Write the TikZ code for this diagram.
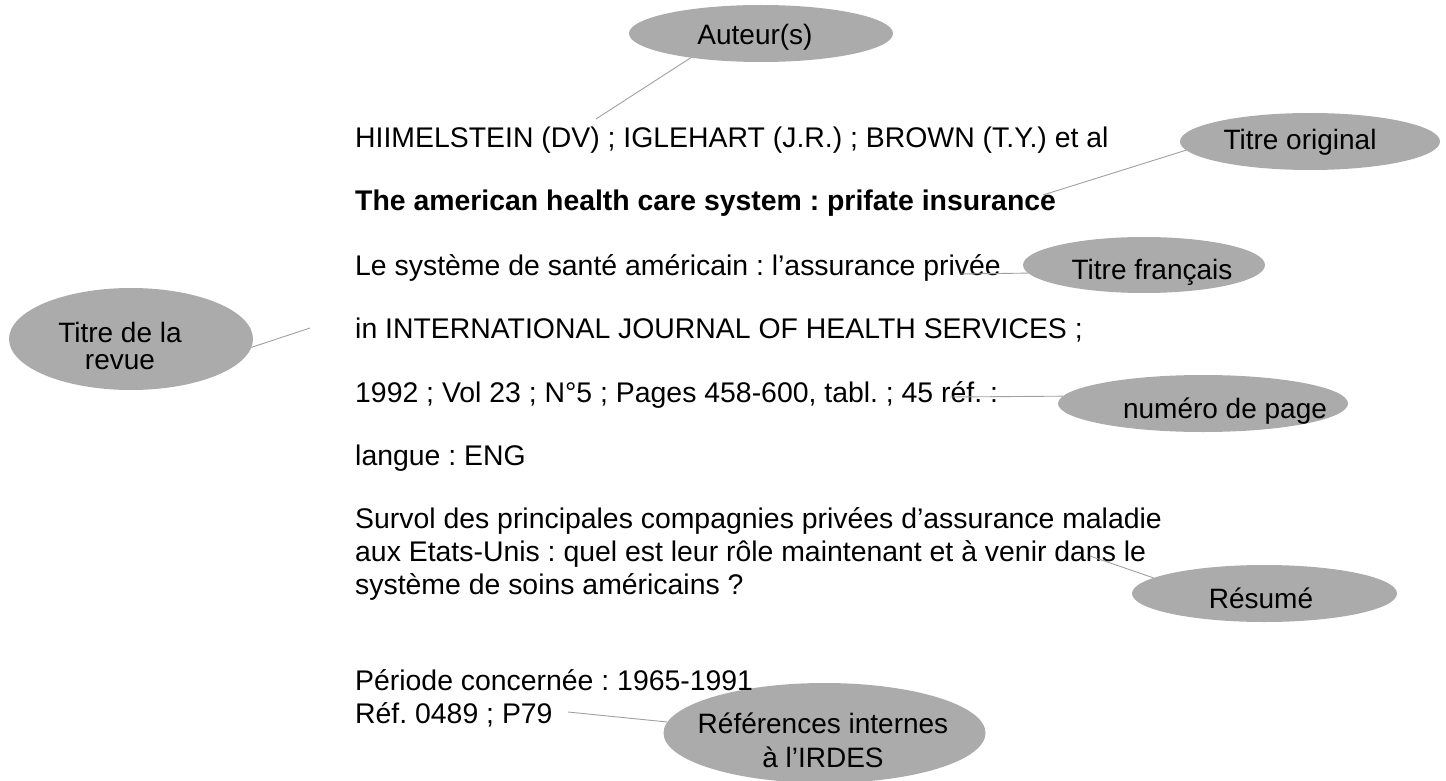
\documentclass[tikz,border=0pt]{standalone}
\usepackage{fontspec}
\setmainfont{Liberation Sans}
\usetikzlibrary{shapes.geometric}
\definecolor{bubgray}{HTML}{ABABAB}
\definecolor{linegray}{HTML}{A0A0A0}
\frenchspacing
\begin{document}
\begin{tikzpicture}[x=1pt,y=-1pt,
  bub/.style={ellipse, fill=bubgray, draw=none, inner sep=0pt, outer sep=0pt},
  lbl/.style={font=\fontsize{28}{28}\selectfont, inner sep=0pt, anchor=base},
  lbl2/.style={font=\fontsize{28}{#1}\selectfont, inner sep=0pt, align=center, anchor=center},
  txt/.style={font=\fontsize{28.4}{33}\selectfont, inner sep=0pt, anchor=base west},
  conn/.style={draw=linegray, line width=0.9pt}]
\useasboundingbox (0,0) rectangle (1446,781);

% bubbles
\node[bub, minimum width=264pt, minimum height=57pt,
  label={[lbl, xshift=-6pt, yshift=-3.5pt]center:Auteur(s)}] (aut) at (761,33.5) {};
\node[bub, minimum width=244pt, minimum height=102pt,
  label={[lbl2=27, xshift=-11pt, yshift=-6.5pt]center:Titre de la\\revue}] (rev) at (131,339) {};
\node[bub, minimum width=260pt, minimum height=57pt,
  label={[lbl, xshift=-10pt, yshift=-1pt]center:Titre original}] (tor) at (1310,141.5) {};
\node[bub, minimum width=242pt, minimum height=56pt,
  label={[lbl, xshift=8pt, yshift=-7pt]center:Titre français}] (tfr) at (1144,265) {};
\node[bub, minimum width=290pt, minimum height=57pt,
  label={[lbl, xshift=22pt, yshift=-7.5pt]center:numéro de page}] (num) at (1203,403.5) {};
\node[bub, minimum width=265pt, minimum height=57pt,
  label={[lbl, xshift=-3.5pt, yshift=-4.5pt]center:Résumé}] (res) at (1264.5,593.5) {};
\node[bub, minimum width=322pt, minimum height=100pt,
  label={[lbl2=34, xshift=-1.5pt, yshift=-7.5pt]center:Références internes\\à l’IRDES}] (ref) at (824.5,733) {};

% text lines
\node[txt] (l1) at (355,148) {HIIMELSTEIN (DV) ; IGLEHART (J.R.) ; BROWN (T.Y.) et al};
\node[txt, font=\bfseries\fontsize{28.4}{33}\selectfont] (l2) at (355,211) {The american health care system : prifate insurance};
\node[txt] (l3) at (355,275) {Le système de santé américain : l’assurance privée};
\node[txt] (l4) at (355,338) {in INTERNATIONAL JOURNAL OF HEALTH SERVICES ;};
\node[txt] (l5) at (355,402) {1992 ; Vol 23 ; N°5 ; Pages 458-600, tabl. ; 45 réf. :};
\node[txt] (l6) at (355,465) {langue : ENG};
\node[txt] (l7) at (355,528) {Survol des principales compagnies privées d’assurance maladie};
\node[txt] (l8) at (355,561) {aux Etats-Unis : quel est leur rôle maintenant et à venir dans le};
\node[txt] (l9) at (355,594) {système de soins américains ?};
\node[txt] (l10) at (355,690) {Période concernée : 1965-1991};
\node[txt] (l11) at (355,723) {Réf. 0489 ; P79};

% connectors
\coordinate (c1) at (596,119);
\coordinate (c2) at (310,328);
\coordinate (c3) at (1043,195);
\coordinate (c4) at (960,274);
\coordinate (c5) at (950,397);
\coordinate (c6) at (1090,556);
\coordinate (c7) at (568,712);
\draw[conn] (c1) -- (aut.199.5);
\draw[conn] (rev.356) -- (c2);
\draw[conn] (c3) -- (tor.184.9);
\draw[conn] (c4) -- (tfr.184.5);
\draw[conn] (c5) -- (num.177.4);
\draw[conn] (c6) -- (res.172.5);
\draw[conn] (c7) -- (ref.176);
\end{tikzpicture}
\end{document}
